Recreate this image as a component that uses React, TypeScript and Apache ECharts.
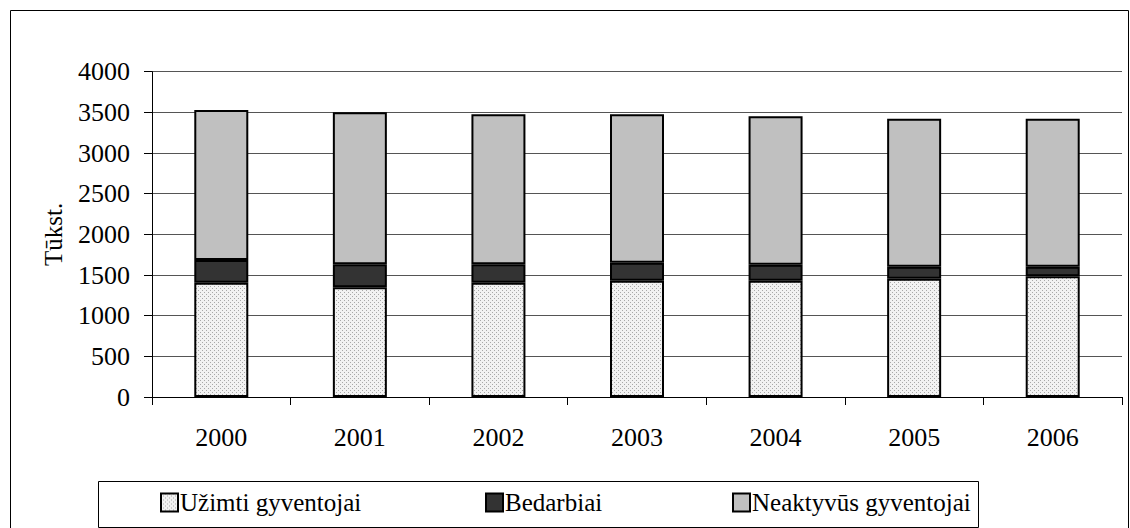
import React, { useEffect, useRef } from "react";
import * as echarts from "echarts";

const years = ["2000", "2001", "2002", "2003", "2004", "2005", "2006"];
const employed = [1405, 1350, 1405, 1430, 1430, 1455, 1484];
const unemployed = [279, 281, 226, 221, 197, 147, 118];
const inactive = [1845, 1869, 1845, 1825, 1824, 1820, 1820];
const seriesNames = ["Užimti gyventojai", "Bedarbiai", "Neaktyvūs gyventojai"];
const yTicks = { min: 0, max: 4000, interval: 500 };

const FONT = "Liberation Serif";

function makePattern(): HTMLCanvasElement {
  const c = document.createElement("canvas");
  c.width = 4;
  c.height = 4;
  const ctx = c.getContext("2d")!;
  ctx.fillStyle = "#f2f2f2";
  ctx.fillRect(0, 0, 4, 4);
  ctx.fillStyle = "#a8a8a8";
  ctx.fillRect(0, 0, 1, 1);
  ctx.fillRect(2, 2, 1, 1);
  return c;
}

export default function App() {
  const ref = useRef<HTMLDivElement>(null);
  useEffect(() => {
    document.body.style.margin = "0";
    const chart = echarts.init(ref.current!, undefined, { renderer: "svg" });
    const pattern = { image: makePattern(), repeat: "repeat" } as any;
    const border = { borderColor: "#000", borderWidth: 2 };
    const legendBase = {
      top: 490,
      padding: 0,
      itemWidth: 17,
      itemHeight: 18,
      itemGap: 0,
      textStyle: { fontFamily: FONT, fontSize: 25, color: "#000", padding: [0, 0, 0, -3] },
      icon: "rect",
    };
    chart.setOption({
      animation: false,
      backgroundColor: "#fff",
      textStyle: { fontFamily: FONT },
      grid: { left: 152, right: 8, top: 71.7, bottom: 131, containLabel: false },
      legend: [
        { ...legendBase, left: 160, data: [seriesNames[0]] },
        { ...legendBase, left: 485, data: [seriesNames[1]] },
        { ...legendBase, left: 732, data: [seriesNames[2]] },
      ],
      xAxis: {
        type: "category",
        data: years,
        axisLine: { lineStyle: { color: "#000", width: 1 } },
        axisTick: { show: true, length: 8, lineStyle: { color: "#000" } },
        axisLabel: { fontFamily: FONT, fontSize: 26, color: "#000", margin: 27 },
      },
      yAxis: {
        type: "value",
        min: yTicks.min,
        max: yTicks.max,
        interval: yTicks.interval,
        name: "Tūkst.",
        nameLocation: "middle",
        nameRotate: 90,
        nameGap: 86,
        nameTextStyle: { fontFamily: FONT, fontSize: 25, color: "#000" },
        axisLine: { show: true, lineStyle: { color: "#000", width: 1 } },
        axisTick: { show: true, length: 8, lineStyle: { color: "#000" } },
        axisLabel: {
          fontFamily: FONT,
          fontSize: 26,
          color: "#000",
          margin: 22,
          formatter: (v: number) => String(v),
        },
        splitLine: { show: true, lineStyle: { color: "#555", width: 1 } },
      },
      series: [
        {
          name: seriesNames[0],
          type: "bar",
          stack: "t",
          barWidth: 54,
          data: employed,
          itemStyle: { color: pattern, ...border },
        },
        {
          name: seriesNames[1],
          type: "bar",
          stack: "t",
          barWidth: 54,
          data: unemployed,
          itemStyle: { color: "#333333", ...border },
        },
        {
          name: seriesNames[2],
          type: "bar",
          stack: "t",
          barWidth: 54,
          data: inactive,
          itemStyle: { color: "#c0c0c0", ...border },
        },
      ],
      graphic: [
        {
          type: "rect",
          shape: { x: 10.5, y: 10.5, width: 1118, height: 560 },
          style: { fill: "none", stroke: "#000", lineWidth: 1 },
          silent: true,
        },
        {
          type: "rect",
          shape: { x: 98.5, y: 481.5, width: 880, height: 46 },
          style: { fill: "none", stroke: "#000", lineWidth: 1 },
          silent: true,
        },
      ],
    });
    return () => chart.dispose();
  }, []);
  return <div ref={ref} style={{ width: 1130, height: 528 }} />;
}
